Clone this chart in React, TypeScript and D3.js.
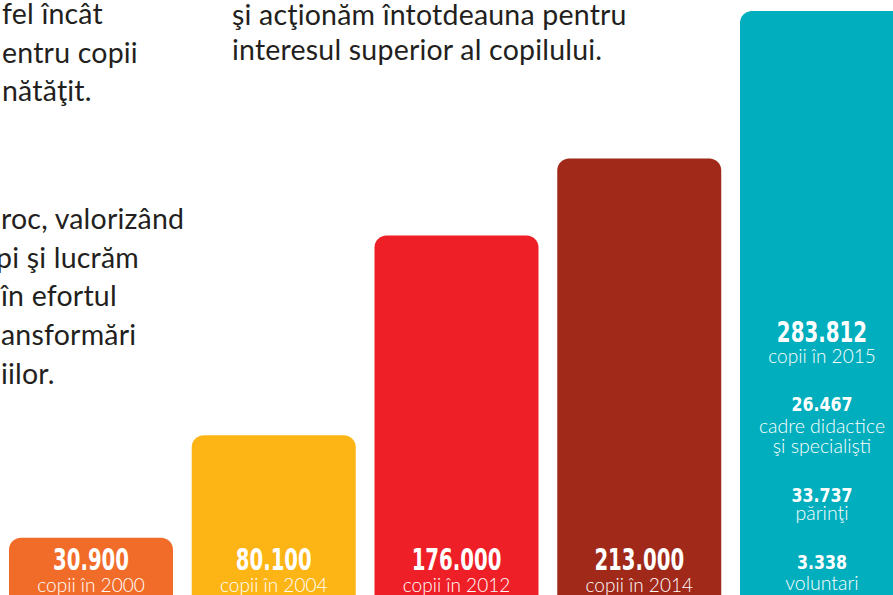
import React from "react";
import * as d3 from "d3";

const years = ["2000", "2004", "2012", "2014", "2015"];
const children = [30900, 80100, 176000, 213000, 283812];
const barColors = ["#F26C29", "#FDB515", "#EE1F27", "#A0291A", "#00AEBD"];
const extraValues = [26467, 33737, 3338];
const extraLabels = [["cadre didactice", "şi specialişti"], ["părinţi"], ["voluntari"]];
const leftTopLines = ["fel încât", "entru copii", "nătăţit."];
const rightTopLines = ["şi acţionăm întotdeauna pentru", "interesul superior al copilului."];
const leftMidLines = ["roc, valorizând", "pi şi lucrăm", "în efortul", "ansformări", "iilor."];

const W = 893;
const H = 595;

const fmt = d3.formatLocale({ decimal: ",", thousands: ".", grouping: [3], currency: ["", ""] }).format(",");

const numFont = "'DejaVu Sans Condensed', 'DejaVu Sans', sans-serif";
const textFont = "Lato, 'Open Sans', sans-serif";

function Num({ x, y, size, sx, children: c }: { x: number; y: number; size: number; sx: number; children: React.ReactNode }) {
  return (
    <text
      transform={`translate(${x},${y}) scale(${sx},1)`}
      fontFamily={numFont}
      fontWeight={700}
      fontSize={size}
      textAnchor="middle"
      fill="#fff"
    >
      {c}
    </text>
  );
}

export default function App() {
  const x = d3.scaleBand<string>().domain(years).range([9, 904]).paddingInner(0.1026).paddingOuter(0);
  const y = d3.scaleLinear().domain([0, d3.max(children) as number]).range([602, 11]);
  const bw = x.bandwidth();
  const last = years.length - 1;
  const cxLast = (x(years[last]) as number) + bw / 2;

  const extraPos = [
    { num: 411, subs: [433, 453] },
    { num: 502, subs: [520] },
    { num: 569, subs: [590] },
  ];

  return (
    <svg
      width={W}
      height={H}
      style={{ position: "absolute", left: 0, top: 0, display: "block", background: "#fff" }}
    >
      <g fill="#231F20" fontFamily={textFont} fontSize={28.5} letterSpacing={0.2}>
        {leftTopLines.map((t, i) => (
          <text key={"lt" + i} x={2} y={24 + i * 38.5}>{t}</text>
        ))}
        {rightTopLines.map((t, i) => (
          <text key={"rt" + i} x={232} y={25 + i * 34.5}>{t}</text>
        ))}
        {leftMidLines.map((t, i) => (
          <text key={"lm" + i} x={i === 1 ? -4 : 1} y={229 + i * 38.7}>{t}</text>
        ))}
      </g>
      {years.map((yr, i) => {
        const bx = x(yr) as number;
        const top = y(children[i]);
        return (
          <rect key={yr} x={bx} y={top} width={bw} height={y(0) - top + 20} rx={12} ry={12} fill={barColors[i]} />
        );
      })}
      {years.slice(0, last).map((yr, i) => {
        const cx = (x(yr) as number) + bw / 2;
        return (
          <g key={"l" + yr}>
            <Num x={cx} y={570} size={30} sx={0.73}>{fmt(children[i])}</Num>
            <text x={cx} y={592} fill="#fff" textAnchor="middle" fontFamily={textFont} fontWeight={300} fontSize={19}>{`copii în ${yr}`}</text>
          </g>
        );
      })}
      <g>
        <Num x={cxLast} y={342} size={29} sx={0.76}>{fmt(children[last])}</Num>
        <text x={cxLast} y={363} fill="#fff" textAnchor="middle" fontFamily={textFont} fontWeight={300} fontSize={19}>{`copii în ${years[last]}`}</text>
        {extraValues.map((v, i) => (
          <g key={"e" + i}>
            <Num x={cxLast} y={extraPos[i].num} size={20} sx={0.88}>{fmt(v)}</Num>
            {extraLabels[i].map((s, j) => (
              <text key={j} x={cxLast} y={extraPos[i].subs[j]} fill="#fff" textAnchor="middle" fontFamily={textFont} fontWeight={300} fontSize={19.5}>{s}</text>
            ))}
          </g>
        ))}
      </g>
    </svg>
  );
}
